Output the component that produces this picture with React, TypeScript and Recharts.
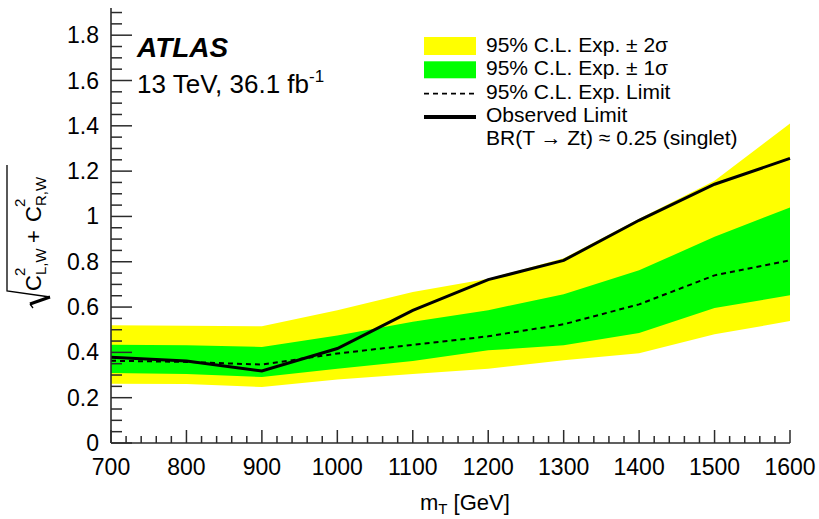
import React from "react";
import { ComposedChart, Area, Line, XAxis, YAxis, Legend } from "recharts";

const FONT = "'Liberation Sans', Arial, Helvetica, sans-serif";
const FRAME = "#2b2b2b";

// vector-like top partner mass points [GeV]
const massPoints = [700, 800, 900, 1000, 1100, 1200, 1300, 1400, 1500, 1600];

// 95% CL limits on sqrt(c_L^2 + c_R^2)
const observedLimit = [0.378, 0.362, 0.318, 0.417, 0.585, 0.721, 0.806, 0.983, 1.142, 1.256];
const expectedLimit = [0.363, 0.358, 0.346, 0.395, 0.433, 0.471, 0.524, 0.612, 0.74, 0.806];
const oneSigmaLow = [0.309, 0.305, 0.291, 0.328, 0.362, 0.409, 0.431, 0.485, 0.596, 0.652];
const oneSigmaHigh = [0.434, 0.432, 0.424, 0.475, 0.535, 0.586, 0.657, 0.762, 0.91, 1.04];
const twoSigmaLow = [0.262, 0.26, 0.247, 0.28, 0.305, 0.328, 0.365, 0.396, 0.48, 0.538];
const twoSigmaHigh = [0.52, 0.518, 0.515, 0.586, 0.667, 0.725, 0.815, 0.99, 1.158, 1.41];

const xMajorTicks = [700, 800, 900, 1000, 1100, 1200, 1300, 1400, 1500, 1600];
const yMajorTicks = [0, 0.2, 0.4, 0.6, 0.8, 1, 1.2, 1.4, 1.6, 1.8];

const legendItems = [
  { label: "95% C.L. Exp. \u00b1 2\u03c3", kind: "yellow" },
  { label: "95% C.L. Exp. \u00b1 1\u03c3", kind: "green" },
  { label: "95% C.L. Exp. Limit", kind: "dashed" },
  { label: "Observed Limit", kind: "solid" },
  { label: "BR(T \u2192 Zt) \u2248 0.25 (singlet)", kind: "none" },
];

const rows = massPoints.map((m, i) => ({
  m,
  obs: observedLimit[i],
  exp: expectedLimit[i],
  band1: [oneSigmaLow[i], oneSigmaHigh[i]],
  band2: [twoSigmaLow[i], twoSigmaHigh[i]],
}));

// minor ticks every 20 GeV and every 0.05
const xTicks: number[] = [];
for (let m = 700; m <= 1600; m += 20) xTicks.push(m);
const yTicks: number[] = [];
for (let i = 0; i <= 38; i++) yTicks.push(Math.round(i * 5) / 100);

const isMajorX = (v: number) => xMajorTicks.includes(v);
const isMajorY = (v: number) => yMajorTicks.some((t) => Math.abs(t - v) < 1e-6);

// ROOT-style ticks: all pointing into the frame
const BottomTick = ({ x, y, payload }: any) => {
  const major = isMajorX(payload.value);
  return (
    <g>
      <line x1={x} x2={x} y1={y} y2={y - (major ? 13 : 7)} stroke={FRAME} strokeWidth={1.5} />
      {major && (
        <text x={x} y={y + 32} textAnchor="middle" fontSize={23} fontFamily={FONT} fill="#000">
          {payload.value}
        </text>
      )}
    </g>
  );
};

const TopTick = ({ x, y, payload }: any) => {
  const major = isMajorX(payload.value);
  return <line x1={x} x2={x} y1={y} y2={y + (major ? 12 : 7)} stroke={FRAME} strokeWidth={1.5} />;
};

const LeftTick = ({ x, y, payload }: any) => {
  const major = isMajorY(payload.value);
  return (
    <g>
      <line x1={x} x2={x + (major ? 21 : 11)} y1={y} y2={y} stroke={FRAME} strokeWidth={1.5} />
      {major && (
        <text x={x - 12} y={y + 8} textAnchor="end" fontSize={23} fontFamily={FONT} fill="#000">
          {String(payload.value)}
        </text>
      )}
    </g>
  );
};

const RightTick = ({ x, y, payload }: any) => {
  const major = isMajorY(payload.value);
  return <line x1={x} x2={x - (major ? 20 : 10)} y1={y} y2={y} stroke={FRAME} strokeWidth={1.5} />;
};

const XTitle = () => (
  <text x={420} y={510} fontSize={22} fontFamily={FONT} fill="#000">
    <tspan>m</tspan>
    <tspan fontSize={15} dy={4}>T</tspan>
    <tspan dy={-4}> [GeV]</tspan>
  </text>
);

// sqrt(c^2_{L,W} + c^2_{R,W}), drawn rotated
const YTitle = () => (
  <g transform="translate(41,291) rotate(-90)" fontFamily={FONT} fill="#000">
    <text x={0} y={0} fontSize={22}>C</text>
    <text x={15} y={-16} fontSize={15}>2</text>
    <text x={16} y={5} fontSize={15}>L,W</text>
    <text x={48} y={0} fontSize={22}>+</text>
    <text x={69} y={0} fontSize={22}>C</text>
    <text x={84} y={-16} fontSize={15}>2</text>
    <text x={85} y={5} fontSize={15}>R,W</text>
    <path d="M 126 -34 L 0 -34 L -6 9" fill="none" stroke="#000" strokeWidth={1.3} />
    <path d="M -6 9 L -13 -11" fill="none" stroke="#000" strokeWidth={3} />
    <path d="M -13 -11 L -17 -8" fill="none" stroke="#000" strokeWidth={1.3} />
  </g>
);

const Annotations = () => (
  <svg width={819} height={519} style={{ position: "absolute", left: 0, top: 0 }}>
    <g fontFamily={FONT} fill="#000">
      <text x={137} y={57} fontSize={28} fontWeight="bold" fontStyle="italic">
        ATLAS
      </text>
      <text x={137} y={93} fontSize={26}>
        13 TeV, 36.1 fb
        <tspan fontSize={17} dy={-11}>-1</tspan>
      </text>
    </g>
    {legendItems.map((item, i) => {
      const base = 52 + i * 23.3;
      return (
        <g key={item.label}>
          {item.kind === "yellow" && <rect x={424} y={base - 15} width={52} height={18} fill="#ffff00" />}
          {item.kind === "green" && <rect x={424} y={base - 14} width={52} height={17} fill="#00ff00" />}
          {item.kind === "dashed" && (
            <line x1={424} x2={476} y1={base - 5} y2={base - 5} stroke="#000" strokeWidth={1.8} strokeDasharray="5 4" />
          )}
          {item.kind === "solid" && (
            <line x1={424} x2={476} y1={base - 5} y2={base - 5} stroke="#000" strokeWidth={4} />
          )}
          <text x={486} y={base} fontSize={21} fontFamily={FONT} fill="#000">
            {item.label}
          </text>
        </g>
      );
    })}
  </svg>
);

export default function App() {
  return (
    <div style={{ position: "absolute", left: 0, top: 0, width: 819, height: 519, background: "#fff" }}>
      <ComposedChart width={819} height={519} data={rows} margin={{ top: 8, right: 29, bottom: 0, left: 0 }}>
        <XAxis
          dataKey="m"
          type="number"
          domain={[700, 1600]}
          ticks={xTicks}
          interval={0}
          height={76}
          tickSize={0}
          tickMargin={0}
          tickLine={false}
          tick={BottomTick}
          axisLine={{ stroke: FRAME, strokeWidth: 1.6 }}
          label={<XTitle />}
        />
        <XAxis
          xAxisId="top"
          orientation="top"
          dataKey="m"
          type="number"
          domain={[700, 1600]}
          ticks={xTicks}
          interval={0}
          height={0}
          tickSize={0}
          tickMargin={0}
          tickLine={false}
          tick={TopTick}
          axisLine={{ stroke: FRAME, strokeWidth: 1.6 }}
        />
        <YAxis
          type="number"
          domain={[0, 1.92]}
          ticks={yTicks}
          interval={0}
          width={111}
          tickSize={0}
          tickMargin={0}
          tickLine={false}
          tick={LeftTick}
          axisLine={{ stroke: FRAME, strokeWidth: 1.6 }}
          label={<YTitle />}
        />
        <YAxis
          yAxisId="right"
          orientation="right"
          type="number"
          domain={[0, 1.92]}
          ticks={yTicks}
          interval={0}
          width={0}
          tickSize={0}
          tickMargin={0}
          tickLine={false}
          tick={RightTick}
          axisLine={{ stroke: FRAME, strokeWidth: 1.6 }}
        />
        <Area
          type="linear"
          dataKey="band2"
          fill="#ffff00"
          fillOpacity={1}
          stroke="none"
          isAnimationActive={false}
        />
        <Area
          type="linear"
          dataKey="band1"
          fill="#00ff00"
          fillOpacity={1}
          stroke="none"
          isAnimationActive={false}
        />
        <Line
          type="linear"
          dataKey="exp"
          stroke="#000"
          strokeWidth={2}
          strokeDasharray="5 4"
          dot={false}
          isAnimationActive={false}
        />
        <Line
          type="linear"
          dataKey="obs"
          stroke="#000"
          strokeWidth={3}
          dot={false}
          isAnimationActive={false}
        />
        <Legend
          layout="vertical"
          align="center"
          verticalAlign="middle"
          content={<Annotations />}
          wrapperStyle={{ position: "absolute", left: 0, top: 0, width: 819, height: 519, pointerEvents: "none" }}
        />
      </ComposedChart>
    </div>
  );
}
